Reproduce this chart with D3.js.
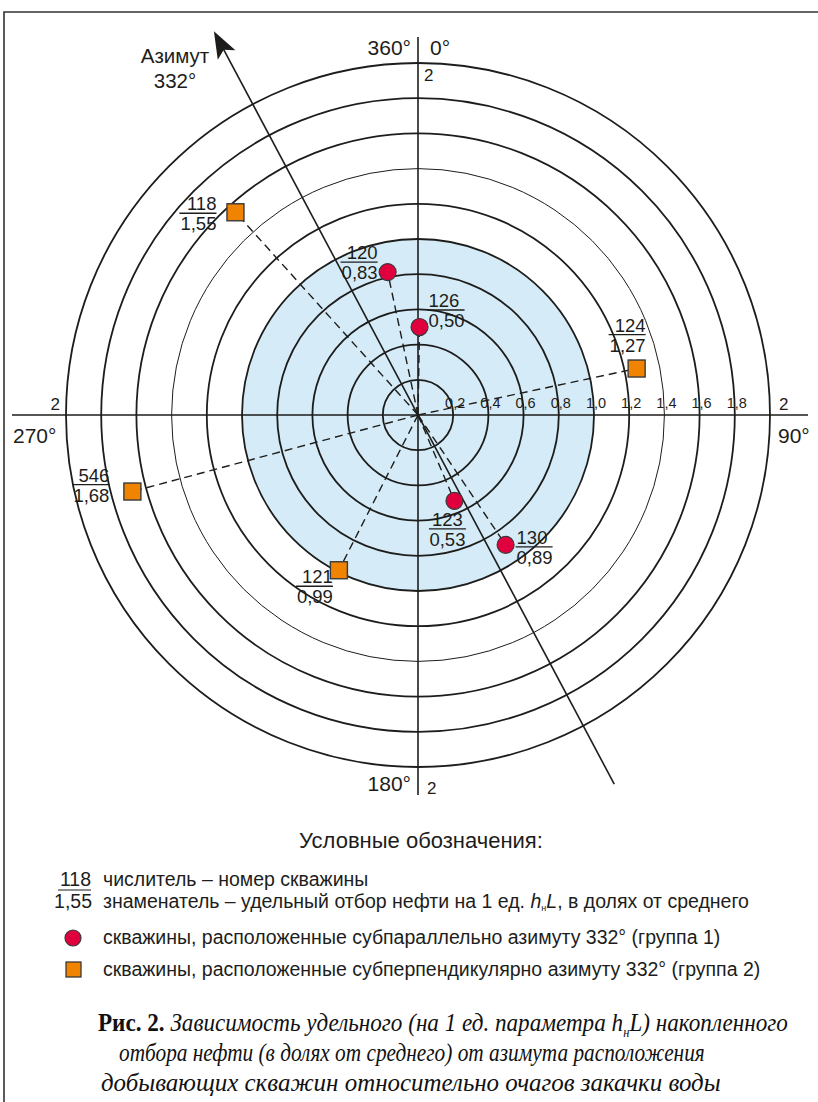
<!DOCTYPE html>
<html>
<head>
<meta charset="utf-8">
<script src="https://cdn.jsdelivr.net/npm/d3@7"></script>
<style>
  html, body { margin: 0; padding: 0; background: #fff; }
  svg { display: block; }
</style>
</head>
<body>
<svg id="chart" width="818" height="1102"></svg>
<script>
// Радиальная шкала: удельный отбор нефти в долях от среднего
const ringValues = [0.2, 0.4, 0.6, 0.8, 1.0, 1.2, 1.4, 1.6, 1.8, 2.0];
const tickLabels = ["0,2", "0,4", "0,6", "0,8", "1,0", "1,2", "1,4", "1,6", "1,8"];
const shadedLimit = 1.0;
const mainAzimuth = 332;

// Скважины
const wellNames  = ["118", "120", "121", "123", "124", "126", "130", "546"];
const wellValues = [1.55, 0.83, 0.99, 0.53, 1.27, 0.50, 0.89, 1.68];
const wellAzimuths = [318, 348, 207, 157, 78, 1, 146, 255];
const wellGroups = [2, 1, 2, 1, 2, 1, 1, 2];

const fmt = v => d3.format(".2f")(v).replace(".", ",");

const svg = d3.select("#chart");
const cx = 418, cy = 415;
const r = d3.scaleLinear().domain([0, 2]).range([0, 352]);
const ang = d3.scaleLinear().domain([0, 360]).range([0, 2 * Math.PI]);
const px = (v, a) => cx + r(v) * Math.sin(ang(a));
const py = (v, a) => cy - r(v) * Math.cos(ang(a));

const sans = "'Liberation Sans', Arial, Helvetica, sans-serif";
const serif = "'Liberation Serif', 'Times New Roman', serif";
const ink = "#1d1d1b";

// рамка
svg.append("path")
  .attr("d", "M4,1102 V12 H818")
  .attr("fill", "none").attr("stroke", "#333").attr("stroke-width", 1.6);

const plot = svg.append("g");

// закрашенная область (до 1,0)
plot.append("circle")
  .attr("cx", cx).attr("cy", cy).attr("r", r(shadedLimit))
  .attr("fill", "#d5ecf8");

// кольца
plot.selectAll("circle.ring").data(ringValues).join("circle")
  .attr("class", "ring")
  .attr("cx", cx).attr("cy", cy).attr("r", d => r(d))
  .attr("fill", "none").attr("stroke", ink)
  .attr("stroke-width", d => Math.abs(d - 1.4) < 1e-6 ? 1 : 1.8);

// оси
plot.append("line").attr("x1", 12).attr("x2", 808).attr("y1", cy).attr("y2", cy)
  .attr("stroke", ink).attr("stroke-width", 1.6);
plot.append("line").attr("x1", cx).attr("x2", cx).attr("y1", 37).attr("y2", 795)
  .attr("stroke", ink).attr("stroke-width", 1.6);

// пунктирные лучи к скважинам
const wells = wellNames.map((n, i) => ({
  name: n, value: wellValues[i], az: wellAzimuths[i], group: wellGroups[i]
}));
plot.selectAll("line.ray").data(wells).join("line")
  .attr("class", "ray")
  .attr("x1", cx).attr("y1", cy)
  .attr("x2", d => px(d.value, d.az)).attr("y2", d => py(d.value, d.az))
  .attr("stroke", ink).attr("stroke-width", 1.4)
  .attr("stroke-dasharray", "8,5");

// азимут 332°
const tipR = 2.47, tailR = 2.375;
plot.append("line")
  .attr("x1", px(tailR, mainAzimuth + 180)).attr("y1", py(tailR, mainAzimuth + 180))
  .attr("x2", px(tipR - 0.08, mainAzimuth)).attr("y2", py(tipR - 0.08, mainAzimuth))
  .attr("stroke", ink).attr("stroke-width", 1.6);
{
  const a = ang(mainAzimuth);
  const ux = Math.sin(a), uy = -Math.cos(a);
  const tx = px(tipR, mainAzimuth), ty = py(tipR, mainAzimuth);
  const len = 27, half = 10;
  const bx = tx - ux * len, by = ty - uy * len;
  const nx = -uy, ny = ux;
  plot.append("path")
    .attr("d", `M${tx},${ty} L${bx + nx * half},${by + ny * half} L${bx + ux * 6},${by + uy * 6} L${bx - nx * half},${by - ny * half} Z`)
    .attr("fill", ink);
}

// подписи шкалы
plot.selectAll("text.tick").data(tickLabels).join("text")
  .attr("class", "tick")
  .attr("x", (d, i) => cx + r(ringValues[i]) + 2)
  .attr("y", cy - 7)
  .attr("text-anchor", "middle")
  .attr("font-family", sans).attr("font-size", 14.5).attr("fill", ink)
  .text(d => d);

// подписи направлений
const dirText = [
  { t: "360°", x: 411, y: 55, a: "end", s: 21 },
  { t: "0°", x: 430, y: 55, a: "start", s: 21 },
  { t: "2", x: 424, y: 81, a: "start", s: 17 },
  { t: "2", x: 60, y: 410, a: "end", s: 17 },
  { t: "270°", x: 13, y: 443, a: "start", s: 21 },
  { t: "2", x: 779, y: 410, a: "start", s: 17 },
  { t: "90°", x: 778, y: 443, a: "start", s: 21 },
  { t: "180°", x: 411, y: 791, a: "end", s: 21 },
  { t: "2", x: 427, y: 794, a: "start", s: 17 },
  { t: "Азимут", x: 175, y: 63, a: "middle", s: 20.5 },
  { t: "332°", x: 175, y: 88, a: "middle", s: 20.5 }
];
plot.selectAll("text.dir").data(dirText).join("text")
  .attr("class", "dir")
  .attr("x", d => d.x).attr("y", d => d.y)
  .attr("text-anchor", d => d.a)
  .attr("font-family", sans).attr("font-size", d => d.s).attr("fill", ink)
  .text(d => d.t);

// маркеры скважин
const mk = plot.selectAll("g.well").data(wells).join("g")
  .attr("class", "well")
  .attr("transform", d => `translate(${px(d.value, d.az)},${py(d.value, d.az)})`);
mk.filter(d => d.group === 1).append("circle")
  .attr("r", 8.5).attr("fill", "#e0003d").attr("stroke", "#3a3a3a").attr("stroke-width", 1.2);
mk.filter(d => d.group === 2).append("rect")
  .attr("x", -8.5).attr("y", -8.5).attr("width", 17).attr("height", 17)
  .attr("fill", "#f08300").attr("stroke", "#3a3a3a").attr("stroke-width", 1.4);

// расположение дробных подписей относительно маркера
const labelPlace = {
  "118": { dx: -19, dy: 1, anchor: "end" },
  "120": { dx: -10, dy: -10, anchor: "end" },
  "126": { dx: 9, dy: -17, anchor: "start" },
  "124": { dx: 9, dy: -34, anchor: "end" },
  "546": { dx: -23, dy: -7, anchor: "end" },
  "121": { dx: -6, dy: 16, anchor: "end" },
  "123": { dx: -7, dy: 28, anchor: "middle" },
  "130": { dx: 11, dy: 2, anchor: "start" }
};

function fraction(g, num, den, x, y, anchor, size) {
  const t1 = g.append("text").attr("x", x).attr("y", y - 3)
    .attr("font-family", sans).attr("font-size", size).attr("fill", ink)
    .attr("text-anchor", anchor).text(num);
  const t2 = g.append("text").attr("x", x).attr("y", y + 17)
    .attr("font-family", sans).attr("font-size", size).attr("fill", ink)
    .attr("text-anchor", anchor).text(den);
  const w = Math.max(t1.node().getComputedTextLength(), t2.node().getComputedTextLength()) + 1;
  const x0 = anchor === "end" ? x - w : anchor === "middle" ? x - w / 2 : x - 1;
  g.append("line").attr("x1", x0).attr("x2", x0 + w).attr("y1", y).attr("y2", y)
    .attr("stroke", ink).attr("stroke-width", 1.3);
}

wells.forEach(d => {
  const p = labelPlace[d.name];
  fraction(plot, d.name, fmt(d.value),
    px(d.value, d.az) + p.dx, py(d.value, d.az) + p.dy, p.anchor, 18.5);
});

// условные обозначения
const leg = svg.append("g").attr("font-family", sans).attr("fill", ink);
leg.append("text").attr("x", 421).attr("y", 848).attr("text-anchor", "middle")
  .attr("font-size", 22).text("Условные обозначения:");

const legSize = 19.5;
leg.append("text").attr("x", 91).attr("y", 886).attr("text-anchor", "end")
  .attr("font-size", legSize).text("118");
leg.append("line").attr("x1", 58).attr("x2", 91).attr("y1", 890).attr("y2", 890)
  .attr("stroke", ink).attr("stroke-width", 1.2);
leg.append("text").attr("x", 92).attr("y", 908).attr("text-anchor", "end")
  .attr("font-size", legSize).text(fmt(wellValues[0]));
leg.append("text").attr("x", 103).attr("y", 886).attr("font-size", legSize)
  .text("числитель – номер скважины");
const l2 = leg.append("text").attr("x", 103).attr("y", 908).attr("font-size", legSize);
l2.append("tspan").text("знаменатель – удельный отбор нефти на 1 ед. ");
l2.append("tspan").attr("font-style", "italic").text("h");
l2.append("tspan").attr("font-size", 9).attr("dy", 3).text("н");
l2.append("tspan").attr("font-style", "italic").attr("dy", -3).text("L");
l2.append("tspan").text(", в долях от среднего");

leg.append("circle").attr("cx", 73).attr("cy", 938).attr("r", 8)
  .attr("fill", "#e0003d").attr("stroke", "#3a3a3a").attr("stroke-width", 1.2);
leg.append("text").attr("x", 103).attr("y", 944).attr("font-size", legSize)
  .text("скважины, расположенные субпараллельно азимуту 332° (группа 1)");
leg.append("rect").attr("x", 66).attr("y", 962).attr("width", 15).attr("height", 15)
  .attr("fill", "#f08300").attr("stroke", "#3a3a3a").attr("stroke-width", 1.3);
leg.append("text").attr("x", 103).attr("y", 976).attr("font-size", legSize)
  .text("скважины, расположенные субперпендикулярно азимуту 332° (группа 2)");

// подпись рисунка: узкое начертание получаем сжатием по горизонтали
const capSize = 26;
function captionLine(y, center, width, parts) {
  const g = svg.append("g").attr("font-family", serif).attr("fill", "#111")
    .attr("font-size", capSize);
  let x = 0;
  parts.forEach(p => {
    const t = g.append("text").attr("x", x).attr("y", y + (p.sub ? 6 : 0))
      .attr("font-size", p.sub ? 14 : capSize);
    p.runs.forEach(run => {
      t.append("tspan")
        .attr("font-weight", run.bold ? "bold" : null)
        .attr("font-style", run.bold ? null : "italic")
        .text(run.s);
    });
    x += t.node().getComputedTextLength();
  });
  const k = width / x;
  g.attr("transform", `translate(${center - width / 2},0) scale(${k},1)`);
}
captionLine(1031, 443, 690, [
  { runs: [{ s: "Рис. 2. ", bold: true }, { s: "Зависимость удельного (на 1 ед. параметра h" }] },
  { sub: true, runs: [{ s: "н" }] },
  { runs: [{ s: "L) накопленного" }] }
]);
captionLine(1061, 412, 586, [
  { runs: [{ s: "отбора нефти (в долях от среднего) от азимута расположения" }] }
]);
captionLine(1091, 411, 620, [
  { runs: [{ s: "добывающих скважин относительно очагов закачки воды" }] }
]);
</script>
</body>
</html>
